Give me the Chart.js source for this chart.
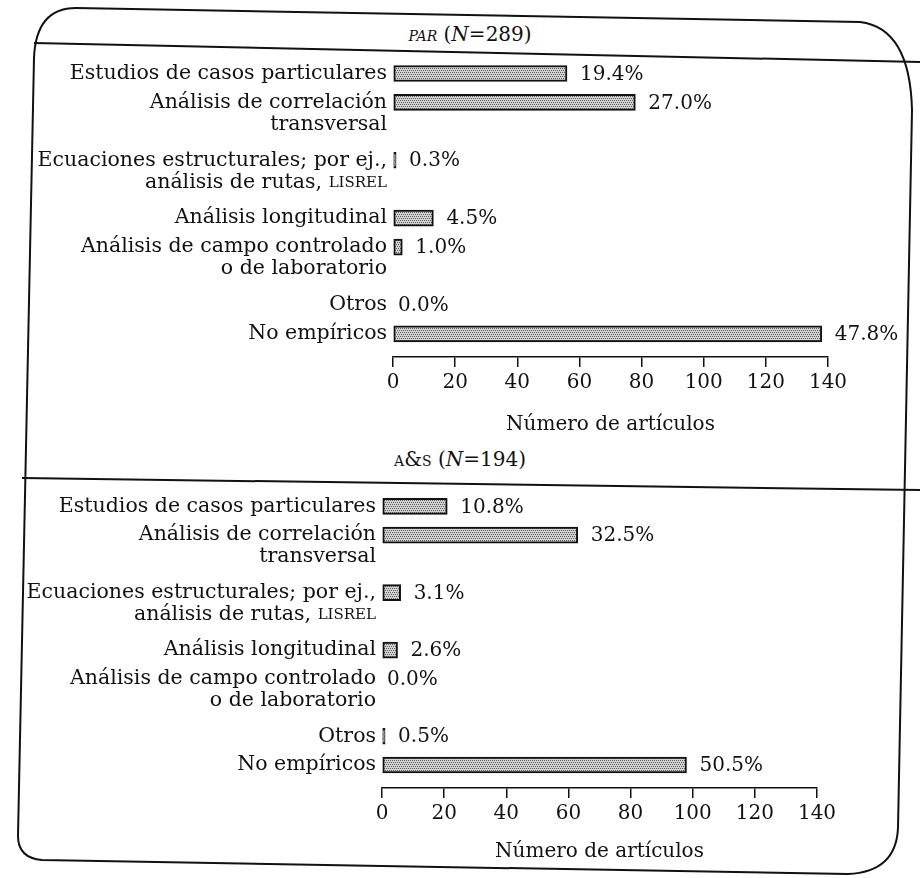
<!DOCTYPE html>
<html>
<head>
<meta charset="utf-8">
<script src="https://cdn.jsdelivr.net/npm/chart.js@4.4.1/dist/chart.umd.min.js"></script>
<style>
  html, body { margin: 0; padding: 0; background: #fff; }
  #page { position: relative; width: 920px; height: 878px; overflow: hidden;
          font-family: 'DejaVu Serif', serif; color: #111; }
  #frame { position: absolute; left: 0; top: 0; }
  .head { position: absolute; font-size: 20px; white-space: nowrap; transform: translateX(-50%); }
  .sc { font-variant: small-caps; }
  canvas { position: absolute; left: 0; }
</style>
</head>
<body>
<div id="page">
  <svg id="frame" width="920" height="878">
    <g fill="none" stroke="#111" stroke-width="2">
      <path d="M34,58 Q36,8 76,8 L860,22 Q910,28 912,110 L898,828 Q896,872 848,874 L42,860 Q18,858 18,836 Z"/>
      <line x1="34" y1="43" x2="920" y2="62"/>
      <line x1="22" y1="478" x2="920" y2="490"/>
    </g>
  </svg>
  <div class="head" style="left:470px;top:22px"><i class="sc">par</i> (<i>N</i>=289)</div>
  <div class="head" style="left:460px;top:447px"><span class="sc">a&amp;s</span> (<i>N</i>=194)</div>
  <canvas id="cPAR" width="920" height="390" style="top:48px"></canvas>
  <canvas id="cAS" width="920" height="392" style="top:480px"></canvas>
</div>

<script>
// ---- Datos ----
var CATEGORIAS = [
  ['Estudios de casos particulares'],
  ['Análisis de correlación', 'transversal'],
  ['Ecuaciones estructurales; por ej.,', 'análisis de rutas, LISREL'],
  ['Análisis longitudinal'],
  ['Análisis de campo controlado', 'o de laboratorio'],
  ['Otros'],
  ['No empíricos']
];
var PAR_ARTICULOS   = [56, 78, 1, 13, 3, 0, 138];
var PAR_PORCENTAJES = ['19.4%', '27.0%', '0.3%', '4.5%', '1.0%', '0.0%', '47.8%'];
var AS_ARTICULOS    = [21, 63, 6, 5, 0, 1, 98];
var AS_PORCENTAJES  = ['10.8%', '32.5%', '3.1%', '2.6%', '0.0%', '0.5%', '50.5%'];
var X_TICKS  = [0, 20, 40, 60, 80, 100, 120, 140];
var X_TITULO = 'Número de artículos';

// ---- Estilo ----
var INK = '#111';
var FAMILY = "'DejaVu Serif', serif";
var FONT = '20px ' + FAMILY;
var LABEL_FONT = '20.5px ' + FAMILY;
var LINE_H = 22;

// Each row takes as many slots as its label has lines (bar sits on the first line).
function slotsFor(cats) {
  var pos = [], s = 0;
  cats.forEach(function (c) { pos.push(s); s += c.length; });
  return pos;
}

// stippled grey like the printed screen
function trama(ctx) {
  var c = document.createElement('canvas'); c.width = 4; c.height = 4;
  var g = c.getContext('2d');
  g.fillStyle = '#d2d2d2'; g.fillRect(0, 0, 4, 4);
  g.fillStyle = '#5e5e5e';
  g.fillRect(0, 0, 1, 1); g.fillRect(2, 0, 1, 1); g.fillRect(1, 2, 1, 1); g.fillRect(3, 2, 1, 1);
  return ctx.createPattern(c, 'repeat');
}

function drawLabel(ctx, text, xRight, y) {
  ctx.textAlign = 'right';
  var m = /^(.*?)(LISREL)$/.exec(text);
  if (!m) { ctx.font = LABEL_FONT; ctx.fillText(text, xRight, y); return; }
  // fake small caps for LISREL
  ctx.font = '15px ' + FAMILY;
  var w = ctx.measureText(m[2]).width;
  ctx.fillText(m[2], xRight, y + 1);
  ctx.font = LABEL_FONT;
  ctx.fillText(m[1], xRight - w, y);
}

var etiquetas = {
  id: 'etiquetas',
  afterDatasetsDraw: function (chart, args, opts) {
    var ctx = chart.ctx, xs = chart.scales.x, ys = chart.scales.y;
    ctx.save();
    ctx.fillStyle = INK;
    ctx.textBaseline = 'middle';
    opts.categorias.forEach(function (lines, i) {
      var y = ys.getPixelForValue(opts.slots[i]);
      lines.forEach(function (t, k) { drawLabel(ctx, t, xs.left - 6, y + k * LINE_H); });
      var v = opts.valores[i];
      ctx.textAlign = 'left';
      ctx.font = FONT;
      ctx.fillText(opts.porcentajes[i], xs.getPixelForValue(v) + (v === 0 ? 5 : 13), y + 1);
    });
    ctx.restore();
  }
};

function drawPanel(id, valores, porcentajes, zeroX, endX, padTop, padBottom, titlePad) {
  var canvas = document.getElementById(id);
  var ctx = canvas.getContext('2d');
  var slots = slotsFor(CATEGORIAS);
  var points = valores.map(function (v, i) { return { x: v, y: slots[i] }; });
  var tickFont = { family: FAMILY, size: 20 };

  new Chart(canvas, {
    type: 'bar',
    data: { datasets: [{
      data: points, backgroundColor: trama(ctx), borderColor: INK,
      borderWidth: 2, borderSkipped: false, barThickness: 16
    }] },
    options: {
      indexAxis: 'y', responsive: false, animation: false,
      layout: { padding: { left: zeroX, right: 920 - endX, top: padTop, bottom: padBottom } },
      plugins: {
        legend: { display: false }, tooltip: { enabled: false },
        etiquetas: { categorias: CATEGORIAS, slots: slots, valores: valores, porcentajes: porcentajes }
      },
      scales: {
        y: {
          type: 'linear', reverse: true, offset: false, bounds: 'data',
          min: -0.5, max: 9.8, display: false
        },
        x: {
          type: 'linear', position: 'bottom', min: 0, max: 140,
          afterBuildTicks: function (s) { s.ticks = X_TICKS.map(function (v) { return { value: v }; }); },
          border: { display: true, color: INK, width: 1.5 },
          grid: { drawOnChartArea: false, drawTicks: true, tickLength: 10, color: INK, lineWidth: 1.5 },
          ticks: { color: INK, font: tickFont, padding: 4, maxRotation: 0 },
          title: { display: true, text: X_TITULO, color: INK, font: tickFont, padding: { top: titlePad, bottom: 0 } }
        }
      }
    },
    plugins: [etiquetas]
  });
}

drawPanel('cPAR', PAR_ARTICULOS, PAR_PORCENTAJES, 393, 828, 11, 1, 14);
drawPanel('cAS',  AS_ARTICULOS,  AS_PORCENTAJES,  382, 817, 12, 8, 10);
</script>
</body>
</html>
